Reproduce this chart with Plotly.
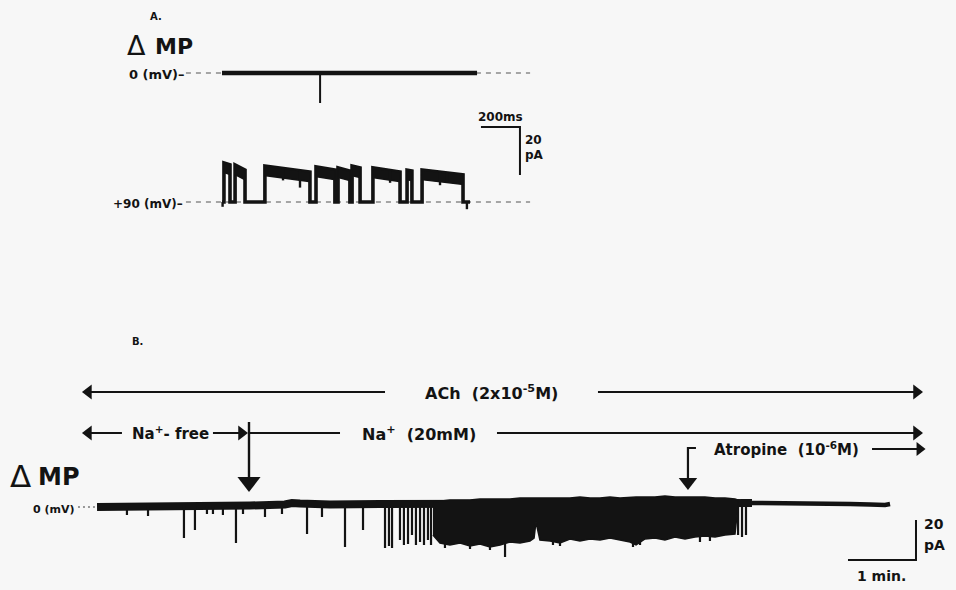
import plotly.graph_objects as go

INK = "#131313"
BG = "#f7f7f7"
FONT = "DejaVu Sans"

# ---------------- Panel A data (time in ms, current in pA) ----------------
A_OPEN_START = [10, 67, 220, 482, 595, 667, 774, 949, 1026]
A_OPEN_END = [41, 118, 451, 579, 656, 708, 913, 974, 1236]
A_OPEN_I_START = [16.3, 15.4, 15.0, 14.6, 14.2, 15.0, 14.2, 13.3, 13.3]
A_OPEN_I_END = [15.5, 13.3, 12.5, 13.3, 12.9, 14.2, 12.5, 12.9, 11.3]
A_FLICKER_T = [313, 400, 862, 1118, 1154]
A_FLICKER_I = [9.0, 6.0, 8.0, 7.0, 8.0]
A_BLIP_T = [3, 1256]
A_BLIP_I = [-2.0, -3.0]
A_TRACE_END = 1272
A_0MV_END = 1308
A_0MV_SPIKE_T = [503]
A_0MV_SPIKE_I = [-12.5]
A_SCALE_MS = 200
A_SCALE_PA = 20

# ---------------- Panel B data (time in s, current in pA) ----------------
B_BASE_T = [1.8, 30.9, 66.2, 101.5, 136.8, 167.6, 173.8, 180.9, 207.4, 251.5, 298.2, 445.6, 567.4, 579.7]
B_BASE_I = [-0.5, -0.5, -0.25, 0.0, 0.25, 0.75, 1.5, 1.25, 0.75, 1.0, 1.0, 1.5, 1.5, 1.5]
B_TAIL_T = [579.7, 604.4, 622.0, 639.7, 666.2, 683.8, 697.1, 701.5]
B_TAIL_I = [1.5, 1.5, 1.0, 1.25, 1.0, 0.75, 0.5, 1.0]
B_SPIKE_T = [28.2, 46.8, 78.5, 88.2, 98.8, 104.1, 112.9, 124.4, 130.6, 150.0, 165.0,
             187.1, 200.3, 220.6, 236.5, 255.9, 259.4, 262.1, 269.1, 272.6, 276.2,
             279.7, 283.2, 286.8, 290.3, 293.8, 296.5, 308.8, 330.9, 348.5, 361.8,
             404.1, 410.3, 474.7, 480.9, 533.8, 542.6, 567.4, 570.9, 574.4]
B_SPIKE_I = [-4.5, -5.0, -16.0, -12.0, -4.0, -4.0, -4.5, -18.5, -4.0, -5.5, -4.0,
             -14.0, -5.5, -20.5, -12.0, -21.0, -20.0, -21.0, -17.0, -19.5, -19.0,
             -14.5, -19.5, -18.0, -19.5, -17.0, -19.5, -21.0, -21.5, -22.0, -25.5,
             -19.5, -20.0, -20.5, -19.5, -18.0, -17.5, -14.5, -15.5, -14.5]
B_BURST_T = [298.2, 304.4, 313.2, 322.1, 330.9, 339.7, 348.5, 357.4, 366.2, 375.0, 383.8,
             387.4, 389.1, 392.6, 401.5, 410.3, 419.1, 427.9, 436.8, 445.6, 454.4, 463.2,
             472.1, 477.4, 485.3, 494.1, 502.9, 511.8, 520.6, 529.4, 538.2, 547.1, 555.9,
             564.7, 567.4]
B_BURST_TOP = [2.0, 2.5, 3.0, 3.0, 3.0, 3.5, 3.5, 3.5, 3.5, 4.0, 4.0, 4.0, 4.0, 4.0, 4.0,
               4.0, 4.0, 4.5, 4.0, 4.0, 4.5, 4.0, 4.5, 4.5, 4.5, 4.5, 5.0, 4.5, 4.5, 4.5,
               4.5, 4.0, 4.0, 3.5, 3.0]
B_BURST_BOTTOM = [-14.5, -18.5, -19.5, -18.5, -20.0, -19.0, -20.5, -19.5, -18.0, -18.5,
                  -17.5, -16.0, -8.0, -17.0, -17.5, -18.5, -16.5, -17.5, -16.5, -17.0,
                  -16.0, -17.0, -18.0, -19.5, -16.5, -16.0, -17.0, -15.5, -16.5, -15.5,
                  -15.0, -15.5, -14.5, -14.0, 0.5]
B_SPAN = [-11.5, 730.6]          # solution-bar extent (s)
NA_FREE_END = 104.1              # end of "Na+-free" label gap (s)
NA_SWITCH_T = 135.9              # Na+ (20 mM) applied (s)
NA_LABEL_GAP = [216.2, 354.7]
ACH_LABEL_GAP = [255.9, 443.8]
ATROPINE_T = 523.2               # atropine applied (s)
ATROPINE_ARROW = [685.6, 732.4]
B_SCALE_S = 60
B_SCALE_PA = 20

# ---------------- layout mapping (hidden axes) ----------------
A_X_RANGE = [-1138.5, 3764.1]
A_Y_RANGE = [-36.67, 84.17]
B_X_RANGE = [-83.8, 759.7]
B_Y_RANGE = [-42.0, 108.0]
A_0MV_OFFSET = 53.75
SPLIT = 300 / 590
B_PX_S = 60 / 68     # s per pixel
B_PX_PA = 0.5        # pA per pixel

fig = go.Figure()


def line(x, y, ref, width=1.8, color=INK, dash=None):
    xa, ya = ("x", "y") if ref == "A" else ("x2", "y2")
    fig.add_trace(go.Scatter(x=x, y=y, xaxis=xa, yaxis=ya, mode="lines",
                             line=dict(color=color, width=width, dash=dash),
                             hoverinfo="skip"))


def head(x, y, symbol, size):
    fig.add_trace(go.Scatter(x=[x], y=[y], xaxis="x2", yaxis="y2", mode="markers",
                             marker=dict(symbol=symbol, size=size, color=INK, line=dict(width=0)),
                             hoverinfo="skip"))


def txt(x, y, text, size, ref, xanchor="center", weight="bold", family=FONT):
    xa, ya = ("x", "y") if ref == "A" else ("x2", "y2")
    fig.add_annotation(x=x, y=y, xref=xa, yref=ya, text=text, showarrow=False,
                       xanchor=xanchor, yanchor="middle",
                       font=dict(family=family, size=size, color=INK, weight=weight))


# ---------- Panel A ----------
dash_x = [-185, 1580]
line(dash_x, [A_0MV_OFFSET] * 2, "A", width=1.4, color="#8a8a8a", dash="5px,5px")
line(dash_x, [0, 0], "A", width=1.4, color="#8a8a8a", dash="5px,5px")

# 0 mV trace
line([0, A_0MV_END], [A_0MV_OFFSET] * 2, "A", width=4.5)
sx, sy = [], []
for t, i in zip(A_0MV_SPIKE_T, A_0MV_SPIKE_I):
    sx += [t, t, None]
    sy += [A_0MV_OFFSET, A_0MV_OFFSET + i, None]
line(sx, sy, "A", width=2)

# +90 mV trace (step trace of openings)
tx, ty = [0], [0]
for s, e, ls, le in zip(A_OPEN_START, A_OPEN_END, A_OPEN_I_START, A_OPEN_I_END):
    tx += [s, s, e, e]
    ty += [0, ls, le, 0]
tx.append(A_TRACE_END)
ty.append(0)
line(tx, ty, "A", width=3.6)

# open-state noise band
BAND = 4.0
bx, by = [], []
for s, e, ls, le in zip(A_OPEN_START, A_OPEN_END, A_OPEN_I_START, A_OPEN_I_END):
    bx += [s, e, e, s, s, None]
    by += [ls, le, le - BAND, ls - BAND, ls, None]
fig.add_trace(go.Scatter(x=bx, y=by, xaxis="x", yaxis="y", mode="lines", fill="toself",
                         fillcolor=INK, line=dict(color=INK, width=1.5), hoverinfo="skip"))

# brief closures (flickers) within openings and small blips
fx, fy = [], []
for t, i in zip(A_FLICKER_T, A_FLICKER_I):
    for s, e, ls, le in zip(A_OPEN_START, A_OPEN_END, A_OPEN_I_START, A_OPEN_I_END):
        if s <= t <= e:
            lvl = ls + (le - ls) * (t - s) / (e - s)
            fx += [t, t, None]
            fy += [lvl, i, None]
for t, i in zip(A_BLIP_T, A_BLIP_I):
    fx += [t, t, None]
    fy += [0, i, None]
line(fx, fy, "A", width=2.4)

# scale bars A
sb_x0 = 1328
sb_y = 31.25
line([sb_x0, sb_x0 + A_SCALE_MS, sb_x0 + A_SCALE_MS], [sb_y, sb_y, sb_y - A_SCALE_PA], "A", width=2)
txt(sb_x0 + A_SCALE_MS / 2, sb_y + 4.0, "200ms", 12, "A")
txt(sb_x0 + A_SCALE_MS + 18, sb_y - 5.5, "20", 12, "A", xanchor="left")
txt(sb_x0 + A_SCALE_MS + 18, sb_y - 11.8, "pA", 12, "A", xanchor="left")

# labels A
txt(-338, 77.1, "A.", 10, "A")
txt(-441, 65.3, "Δ", 27, "A", weight="normal")
txt(-356, 65.0, "MP", 22, "A", xanchor="left")
txt(-180, A_0MV_OFFSET - 0.6, "0 (mV)–", 13, "A", xanchor="right")
txt(-190, -0.8, "+90 (mV)–", 12, "A", xanchor="right")

# ---------- Panel B ----------
line([-15.0, 0.9], [-0.5, -0.5], "B", width=1.3, color="#7a7a7a", dash="2px,3px")
line(B_BASE_T, B_BASE_I, "B", width=8)
line(B_TAIL_T, B_TAIL_I, "B", width=4.5)

px_, py_ = [], []
for t, i in zip(B_SPIKE_T, B_SPIKE_I):
    px_ += [t, t, None]
    py_ += [0, i, None]
line(px_, py_, "B", width=2.2)

fig.add_trace(go.Scatter(x=B_BURST_T + B_BURST_T[::-1], y=B_BURST_TOP + B_BURST_BOTTOM[::-1],
                         xaxis="x2", yaxis="y2", mode="lines", fill="toself", fillcolor=INK,
                         line=dict(color=INK, width=1.5), hoverinfo="skip"))

# solution bars
ACH_Y = 57.0
NA_Y = 36.5
ATR_Y = 28.5
HEAD = 5.5 * B_PX_S
line([B_SPAN[0] + HEAD, ACH_LABEL_GAP[0]], [ACH_Y] * 2, "B", width=2)
line([ACH_LABEL_GAP[1], B_SPAN[1] - HEAD], [ACH_Y] * 2, "B", width=2)
head(B_SPAN[0] + 6.5 * B_PX_S, ACH_Y, "triangle-left", 13)
head(B_SPAN[1] - 6.5 * B_PX_S, ACH_Y, "triangle-right", 13)
txt(sum(ACH_LABEL_GAP) / 2, ACH_Y, "ACh  (2x10<sup>-5</sup>M)", 16, "B")

line([B_SPAN[0] + HEAD, 23.8], [NA_Y] * 2, "B", width=2)
head(B_SPAN[0] + 6.5 * B_PX_S, NA_Y, "triangle-left", 13)
txt(66.2, NA_Y, "Na<sup>+</sup>- free", 15, "B")
line([NA_FREE_END, NA_SWITCH_T - HEAD], [NA_Y] * 2, "B", width=2)
head(NA_SWITCH_T - 7.5 * B_PX_S, NA_Y, "triangle-right", 13)
line([NA_SWITCH_T, NA_LABEL_GAP[0]], [NA_Y] * 2, "B", width=2)
txt(sum(NA_LABEL_GAP) / 2, NA_Y, "Na<sup>+</sup>  (20mM)", 16, "B")
line([NA_LABEL_GAP[1], B_SPAN[1] - HEAD], [NA_Y] * 2, "B", width=2)
head(B_SPAN[1] - 6.5 * B_PX_S, NA_Y, "triangle-right", 13)

# Na switch: vertical arrow down to trace
line([NA_SWITCH_T, NA_SWITCH_T], [42.0, 12.0], "B", width=2.4)
head(NA_SWITCH_T, 7.0 + 10 * B_PX_PA, "triangle-down", 20)

# atropine bracket arrow
line([ATROPINE_T + 8 * B_PX_S, ATROPINE_T, ATROPINE_T], [ATR_Y + 0.5, ATR_Y + 0.5, 12.0], "B", width=2.2)
head(ATROPINE_T, 8.0 + 8 * B_PX_PA, "triangle-down", 16)
txt(610.0, ATR_Y, "Atropine  (10<sup>-6</sup>M)", 15, "B")
line([ATROPINE_ARROW[0], ATROPINE_ARROW[1] - HEAD], [ATR_Y] * 2, "B", width=2)
head(ATROPINE_ARROW[1] - 5.5 * B_PX_S, ATR_Y, "triangle-right", 12)

# scale bars B
sbx = 664.4
sby = -27.0
line([sbx, sbx + B_SCALE_S, sbx + B_SCALE_S], [sby, sby, sby + B_SCALE_PA], "B", width=2)
txt(sbx + B_SCALE_S + 5.5, -9.0, "20", 14, "B", xanchor="left")
txt(sbx + B_SCALE_S + 5.5, -19.5, "pA", 14, "B", xanchor="left")
txt(sbx + 30.0, -35.0, "1 min.", 14, "B")

# labels B
txt(37.1, 82.5, "B.", 10, "B")
txt(-65.3, 15.0, "Δ", 31, "B", weight="normal")
txt(-52.0, 14.5, "MP", 24, "B", xanchor="left")
txt(-16.0, -1.5, "0 (mV)", 11, "B", xanchor="right")

ax = dict(visible=False, showgrid=False, zeroline=False, fixedrange=True)
fig.update_layout(
    width=956, height=590, margin=dict(l=0, r=0, t=0, b=0),
    paper_bgcolor=BG, plot_bgcolor=BG, showlegend=False,
    xaxis=dict(ax, domain=[0, 1], range=A_X_RANGE, anchor="y"),
    yaxis=dict(ax, domain=[SPLIT, 1], range=A_Y_RANGE, anchor="x"),
    xaxis2=dict(ax, domain=[0, 1], range=B_X_RANGE, anchor="y2"),
    yaxis2=dict(ax, domain=[0, SPLIT], range=B_Y_RANGE, anchor="x2"),
)

fig.write_html("out.html", config={"displayModeBar": False})
